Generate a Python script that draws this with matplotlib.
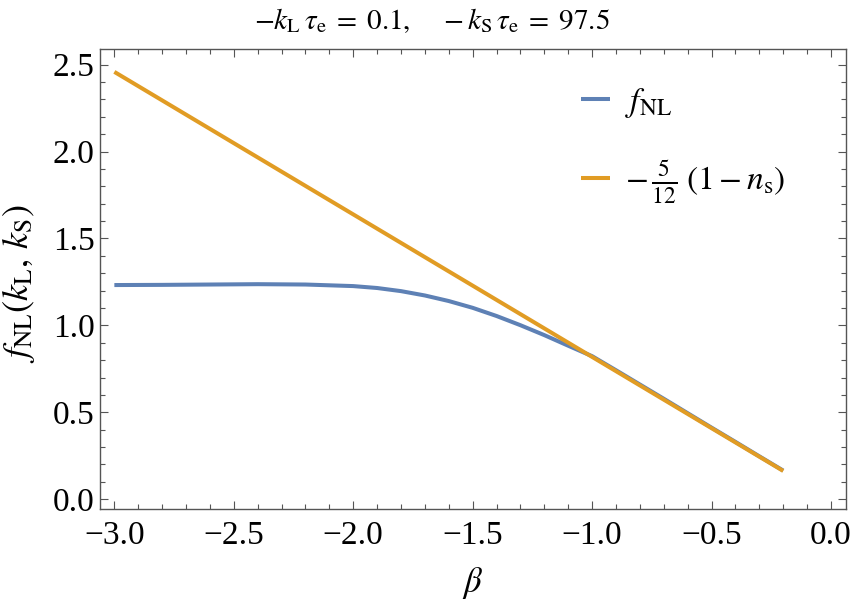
import matplotlib
matplotlib.use("Agg")
import matplotlib.pyplot as plt
from matplotlib.ticker import MultipleLocator, FuncFormatter

plt.rcParams['font.family'] = ['Liberation Serif', 'DejaVu Serif']
plt.rcParams['mathtext.fontset'] = 'stix'

beta_fnl = [-3.0, -2.8, -2.6, -2.4, -2.2, -2.0, -1.9, -1.8, -1.7, -1.6, -1.5,
            -1.4, -1.3, -1.2, -1.1, -1.0, -0.9, -0.8, -0.7, -0.6, -0.5, -0.4,
            -0.3, -0.2]
fnl = [1.232, 1.233, 1.235, 1.237, 1.235, 1.226, 1.215, 1.197, 1.172, 1.140,
       1.101, 1.054, 1.001, 0.944, 0.883, 0.823, 0.742, 0.660, 0.578, 0.495,
       0.412, 0.330, 0.247, 0.165]

beta_ns = [-3.0, -0.2]
ns_line = [2.458, 0.163]

blue = '#5E81B5'
orange = '#E19C24'
frame = '#555555'

fig = plt.figure(figsize=(8.55, 6.04), dpi=100)
ax = fig.add_axes([0.117, 0.157, 0.8725, 0.762])

ax.plot(beta_fnl, fnl, color=blue, lw=2.9, label=r'$f_{\rm NL}$', solid_capstyle='butt')
ax.plot(beta_ns, ns_line, color=orange, lw=2.9, label=r'$-\,\frac{5}{12}\;(1-n_{\rm s})$', solid_capstyle='butt')

ax.set_xlim(-3.06, 0.063)
ax.set_ylim(-0.057, 2.59)
fmt = FuncFormatter(lambda v, p: f'{v:.1f}'.replace('-', '\u2212'))
ax.xaxis.set_major_locator(MultipleLocator(0.5))
ax.xaxis.set_minor_locator(MultipleLocator(0.1))
ax.yaxis.set_major_locator(MultipleLocator(0.5))
ax.yaxis.set_minor_locator(MultipleLocator(0.1))
ax.xaxis.set_major_formatter(fmt)
ax.yaxis.set_major_formatter(fmt)

ax.tick_params(which='both', direction='in', top=True, right=True, color=frame, labelsize=24, width=0.8)
ax.tick_params(which='major', length=6)
ax.tick_params(which='minor', length=3.5)
ax.tick_params(axis='x', pad=8)
ax.tick_params(axis='y', pad=4)
for s in ax.spines.values():
    s.set_color(frame)
    s.set_linewidth(1.0)

ax.set_xlabel(r'$\beta$', fontsize=25, labelpad=10)
ax.set_ylabel(r'$f_{\rm NL}(k_{\rm L},\,k_{\rm S})$', fontsize=26)
ax.yaxis.set_label_coords(-0.0845, 0.49)
fig.text(0.505, 0.965,
         r'$-k_{\rm L}\,\tau_{\rm e}\;=\;0.1,\quad\, -k_{\rm S}\,\tau_{\rm e}\;=\;97.5$',
         fontsize=21, ha='center', va='center')

leg = ax.legend(loc='upper left', bbox_to_anchor=(0.605, 0.985), frameon=False, fontsize=24,
                handlelength=0.85, handletextpad=0.45, labelspacing=1.15)

fig.savefig('out.png', dpi=100)
